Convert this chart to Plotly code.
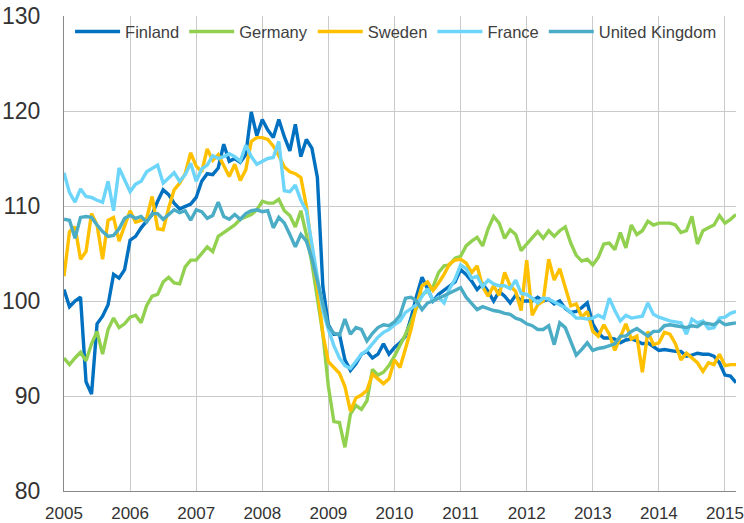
import plotly.graph_objects as go

years = [2005, 2006, 2007, 2008, 2009, 2010, 2011, 2012, 2013, 2014, 2015]
tick_labels = [str(y) for y in years]
series_names = ["Finland", "Germany", "Sweden", "France", "United Kingdom"]

finland = [
    101.2, 99.4, 100.0, 100.4, 91.5, 90.2, 97.6, 98.4, 99.6, 102.8, 102.4, 103.3,
    106.4, 106.8, 107.7, 108.4, 109.1, 110.5, 111.7, 111.2, 110.3, 109.7, 110.0, 110.2,
    110.9, 112.6, 113.4, 113.3, 114.0, 116.5, 114.7, 115.0, 114.6, 115.4, 119.9, 117.4,
    119.1, 118.0, 117.2, 119.1, 117.3, 115.8, 118.6, 115.2, 117.0, 116.1, 113.0, 101.5,
    97.5, 96.5, 96.5, 93.8, 92.7, 93.4, 94.4, 94.7, 94.0, 94.4, 95.5, 94.4,
    95.1, 95.6, 96.3, 98.2, 100.5, 102.5, 101.3, 100.0, 100.7, 101.1, 101.5, 102.0,
    103.3, 102.8, 102.1, 101.2, 101.8, 101.0, 100.0, 101.0, 100.5, 99.8, 100.6, 100.0,
    100.0, 100.0, 100.4, 100.0, 100.2, 99.7, 100.0, 99.2, 98.8, 98.9, 99.3, 99.8,
    97.6, 96.6, 96.1, 96.1, 96.0, 95.6, 95.9, 96.0, 95.8, 95.5, 95.6, 95.2,
    94.8, 94.9, 94.8, 94.7, 94.7, 94.2, 94.3, 94.5, 94.4, 94.4, 94.2, 93.5,
    92.2, 92.1, 91.4,
]
germany = [
    94.0, 93.3, 94.0, 94.6, 93.7, 95.5, 96.8, 94.4, 97.0, 98.2, 97.2, 97.6,
    98.3, 98.5, 97.7, 99.5, 100.5, 100.7, 102.0, 102.5, 101.9, 101.8, 103.6, 104.3,
    104.3, 105.0, 105.7, 105.2, 106.8, 107.2, 107.6, 108.0, 108.6, 108.9, 109.1, 109.6,
    110.5, 110.3, 110.3, 110.7, 109.5, 109.0, 107.8, 109.5, 107.0, 104.0, 100.5, 96.5,
    91.0, 87.3, 87.2, 84.6, 88.1, 89.0, 88.6, 89.5, 92.8, 92.2, 92.5, 93.2,
    94.2, 95.3, 96.5, 97.8, 99.2, 100.7, 101.0, 101.5, 103.0, 103.7, 103.8, 104.5,
    104.7, 105.8, 106.3, 106.7, 105.8, 107.6, 108.9, 108.2, 106.6, 107.5, 107.0, 105.3,
    106.0, 106.6, 107.3, 106.6, 107.4, 106.8, 107.4, 107.8, 106.1, 104.8, 104.2, 104.4,
    103.8, 104.6, 106.0, 106.1, 105.4, 107.2, 105.6, 108.0, 107.0, 107.4, 108.4, 108.0,
    108.2, 108.2, 108.2, 108.0, 107.2, 107.4, 108.9, 106.0, 107.4, 107.7, 108.0, 109.0,
    108.2, 108.6, 109.1,
]
sweden = [
    102.6, 107.3, 107.8, 104.4, 105.2, 109.2, 108.0, 104.4, 108.5, 108.8, 106.3, 107.8,
    109.5, 108.3, 108.5, 108.7, 111.0, 107.6, 107.5, 109.8, 111.7, 112.4, 113.4, 115.6,
    114.2, 113.6, 116.0, 114.8, 115.4, 114.3, 113.1, 114.4, 112.7, 113.8, 116.8, 117.2,
    117.2, 117.0, 116.3, 115.3, 114.1, 113.6, 113.4, 113.0, 110.0, 105.5, 101.5, 96.5,
    93.6, 93.0, 92.4, 91.0, 88.4, 89.8, 90.1, 90.6, 92.3, 91.8, 91.3, 91.8,
    93.8, 93.0, 95.1, 97.0, 99.6, 101.6, 102.0, 101.1, 101.9, 102.8, 103.9, 104.3,
    104.4, 104.0, 103.0, 103.7, 101.5, 100.5, 101.6, 100.6, 103.0, 101.6, 101.0, 99.0,
    104.3, 98.5, 99.6, 100.0, 104.4, 102.2, 103.4, 101.5, 99.5, 99.7, 98.3, 98.9,
    96.8, 96.3, 97.5, 96.5, 94.8, 96.2, 97.6, 96.0, 96.3, 92.5, 96.8, 95.4,
    95.6, 96.7, 96.5, 95.5, 93.8, 94.5, 94.0, 93.5, 92.6, 93.5, 93.3, 94.4,
    93.2, 93.3, 93.3,
]
france = [
    113.5, 111.4, 110.4, 111.8, 111.0, 110.9, 110.6, 110.4, 112.6, 109.5, 114.0, 112.8,
    111.5, 112.3, 112.6, 113.6, 114.0, 114.3, 112.4, 113.0, 113.5, 112.6, 113.3, 114.5,
    112.6, 113.9, 114.3, 115.3, 115.0, 115.2, 115.5, 115.2, 114.7, 116.4, 115.2, 114.4,
    114.7, 115.0, 115.1, 116.8, 111.6, 111.5, 112.2, 110.6, 109.5, 106.0, 102.3, 99.0,
    97.0, 95.3, 94.0, 93.2, 92.9, 93.6, 94.4, 94.8, 95.5, 96.2, 96.7, 97.0,
    97.5, 97.9, 98.8, 99.2, 99.6, 100.5, 101.3, 100.0, 100.4, 99.8, 101.3, 102.3,
    103.8, 103.4, 102.4, 102.6, 101.5, 102.2, 101.8, 101.6, 101.6, 101.3, 102.2, 100.8,
    100.7, 100.3, 99.8, 100.3, 100.2, 99.9, 99.6, 99.3, 98.8, 98.2, 98.2, 98.1,
    98.2, 98.5, 98.2, 100.3, 99.0, 97.9, 98.5, 98.2, 98.3, 98.4, 99.8, 98.6,
    98.3, 98.1, 97.9, 97.8, 97.7, 96.5, 98.1, 97.7, 97.9, 97.1, 97.2, 98.2,
    98.3, 98.7, 98.9,
]
united_kingdom = [
    108.6, 108.5, 106.6, 108.8, 108.9, 108.8, 108.0, 107.3, 106.8, 106.9, 107.6, 108.7,
    109.0, 108.7, 108.9, 108.3, 109.2, 109.2, 108.6, 109.1, 109.6, 109.3, 109.5, 108.5,
    109.6, 109.4, 108.7, 109.0, 110.4, 108.9, 108.6, 109.1, 108.6, 109.2, 109.5, 109.6,
    109.4, 109.5, 107.7, 108.8, 108.2, 107.0, 105.7, 107.0, 106.3, 104.5, 102.0, 99.5,
    97.3, 96.6, 96.4, 98.1, 96.5, 97.2, 97.0, 95.8, 96.6, 97.2, 97.5, 97.4,
    97.8, 98.5, 100.3, 100.4, 100.0, 99.1, 99.8, 100.0, 100.3, 100.6, 100.8, 101.2,
    101.4, 100.4, 99.8, 99.1, 99.4, 99.2, 99.0, 98.9, 98.7, 98.6, 98.2, 98.0,
    97.6, 97.4, 97.0, 97.0, 97.4, 95.4, 97.7, 97.2, 95.8, 94.3, 94.9, 95.6,
    94.8, 95.0, 95.1, 95.3, 95.5, 96.3, 96.3, 96.8, 97.1, 96.7, 96.3, 96.8,
    96.8, 97.4, 97.5, 97.4, 97.3, 97.2, 97.4, 97.3, 97.7, 97.6, 97.5, 97.9,
    97.5, 97.6, 97.7,
]

colors = ["#0070C0", "#92D050", "#FFC000", "#6DD5FA", "#4BACC6"]
all_series = [finland, germany, sweden, france, united_kingdom]

n = len(finland)
x_vals = [years[0] + i / 12 for i in range(n)]

fig = go.Figure()
for name, vals, col in zip(series_names, all_series, colors):
    fig.add_trace(go.Scatter(x=x_vals, y=vals, mode="lines", name=name,
                             line=dict(color=col, width=3.4)))

# white panel behind the legend that hides the vertical gridlines there
fig.add_shape(type="rect", xref="paper", yref="paper", layer="between",
              x0=0.004, x1=0.979, y0=0.929, y1=0.997,
              fillcolor="white", line=dict(width=0))

fig.update_layout(
    width=744, height=523,
    margin=dict(l=64, r=8, t=16, b=32, pad=0, autoexpand=False),
    paper_bgcolor="white", plot_bgcolor="white",
    font=dict(family="Liberation Sans, Arial, sans-serif", color="#404040"),
    showlegend=True,
    legend=dict(orientation="h", x=0.009, y=1.0035, xanchor="left", yanchor="top",
                bgcolor="rgba(0,0,0,0)", font=dict(size=16.5, color="#404040"),
                itemwidth=45, tracegroupgap=0),
    xaxis=dict(range=[years[0], x_vals[-1]], tickmode="array", tickvals=years,
               ticktext=tick_labels, showgrid=True, gridcolor="#CACACA", gridwidth=1.3,
               showline=True, linecolor="#888888", linewidth=1.3, zeroline=False,
               ticks="outside", ticklen=6, tickcolor="rgba(0,0,0,0)",
               tickfont=dict(size=17, color="#333333"), automargin=False),
    yaxis=dict(range=[80, 130], tickmode="linear", tick0=80, dtick=10,
               showgrid=True, gridcolor="#CACACA", gridwidth=1.3,
               showline=True, linecolor="#888888", linewidth=1.3, zeroline=False,
               ticks="outside", ticklen=18, tickcolor="rgba(0,0,0,0)",
               tickfont=dict(size=23, color="#333333"), automargin=False),
)

fig.write_html("out.html", config={"displayModeBar": False},
               post_script="document.body.style.margin='0';document.body.style.overflow='hidden';")
